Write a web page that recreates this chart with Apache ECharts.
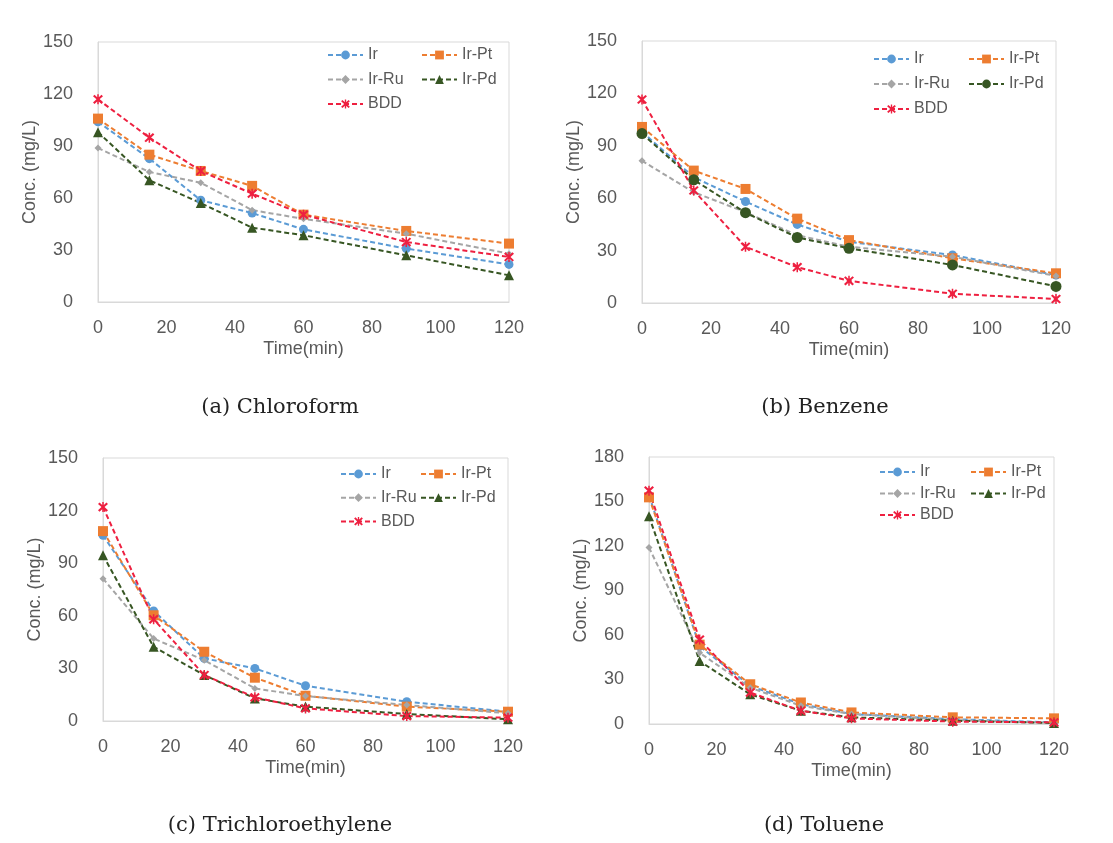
<!DOCTYPE html>
<html><head><meta charset="utf-8">
<script src="https://cdn.jsdelivr.net/npm/echarts@6/dist/echarts.min.js"></script>
<style>html,body{margin:0;padding:0;background:#fff}#c{width:1113px;height:843px}</style>
</head><body><div id="c"></div>
<script>
// ---- data ----
const times = [0, 15, 30, 45, 60, 90, 120];
const seriesNames = ['Ir', 'Ir-Pt', 'Ir-Ru', 'Ir-Pd', 'BDD'];
const captions = ['(a) Chloroform', '(b) Benzene', '(c) Trichloroethylene', '(d) Toluene'];
const yMaxes = [150, 150, 150, 180];

// (a) Chloroform
const chloroIr   = [104, 82.7, 58.7, 51.3, 41.9, 30.8, 21.7];
const chloroIrPt = [105.8, 85, 75.6, 67, 50.4, 41, 33.7];
const chloroIrRu = [88.8, 75, 68.8, 53, 48, 39.4, 27.9];
const chloroIrPd = [98, 70.2, 57.1, 42.9, 38.5, 26.9, 15.4];
const chloroBDD  = [116.9, 94.8, 75.6, 62.5, 50.4, 34.6, 26];

// (b) Benzene
const benzIr   = [98, 72, 58.1, 45, 35, 27.5, 16];
const benzIrPt = [100.8, 75.8, 65.3, 48.3, 36, 25.6, 17];
const benzIrRu = [81.4, 63.4, 52, 38.8, 32.2, 26.5, 15.5];
const benzIrPd = [97, 70.5, 51.7, 37.5, 31.3, 21.8, 9.5];
const benzBDD  = [116.5, 64.4, 32.2, 20.5, 12.7, 5.3, 2.3];

// (c) Trichloroethylene
const tceIr   = [105.9, 62.8, 35.7, 30, 20.1, 11, 5.3];
const tceIrPt = [108.3, 60.3, 39.5, 24.7, 14.4, 8.2, 5.3];
const tceIrRu = [81.2, 47, 34.7, 18.6, 14.2, 9.1, 4.4];
const tceIrPd = [94.5, 42.3, 26.2, 12.9, 8.2, 4, 1];
const tceBDD  = [122, 58, 26.2, 13.5, 7.2, 2.8, 1.9];

// (d) Toluene
const tolIr   = [154, 52.4, 25.7, 13.4, 6.7, 3.3, 1.1];
const tolIrPt = [152.8, 53.5, 26.8, 14.5, 7.8, 4.5, 3.8];
const tolIrRu = [119, 48, 24.5, 12.3, 6.7, 2.7, 0.7];
const tolIrPd = [140, 42.4, 20, 8.9, 4.5, 2.2, 0.7];
const tolBDD  = [157.3, 56.9, 21.2, 8.9, 3.8, 1.6, 1.1];

const panelData = [
  [chloroIr, chloroIrPt, chloroIrRu, chloroIrPd, chloroBDD],
  [benzIr, benzIrPt, benzIrRu, benzIrPd, benzBDD],
  [tceIr, tceIrPt, tceIrRu, tceIrPd, tceBDD],
  [tolIr, tolIrPt, tolIrRu, tolIrPd, tolBDD]
];

// ---- styling / layout ----
const keys = ['a', 'b', 'c', 'd'];
const colors = ['#5B9BD5', '#ED7D31', '#A5A5A5', '#375623', '#EE2040'];
const star = 'path://M-4.6,-3.2 L-3.2,-4.6 L0,-1.4 L3.2,-4.6 L4.6,-3.2 L1.4,0 L4.6,3.2 L3.2,4.6 L0,1.4 L-3.2,4.6 L-4.6,3.2 L-1.4,0 Z M-0.7,-5 L0.7,-5 L0.7,5 L-0.7,5 Z';
const symbols = ['circle', 'rect', 'diamond', 'triangle', star];
const symbolSizes = [9, 10, 7, 10, 10];
const grids = [
  {left: 98, top: 42, width: 411, height: 260},
  {left: 642, top: 41, width: 414, height: 262},
  {left: 103, top: 458, width: 405, height: 263},
  {left: 649, top: 457, width: 405, height: 267}
];
const legendPos = [
  {c1: 327, c2: 421, top: 47, gap: 8.5},
  {c1: 873, c2: 968, top: 51, gap: 9},
  {c1: 340, c2: 420, top: 466, gap: 7.7},
  {c1: 879, c2: 970, top: 464, gap: 5.5}
];
const captionPos = [[275, 405], [820, 405], [275, 823], [819, 823]];

const gray = '#595959';
const font = 'Liberation Sans';

const option = {
  backgroundColor: '#fff',
  animation: false,
  grid: grids.map(g => Object.assign({show: true, borderColor: '#D9D9D9', borderWidth: 1, containLabel: false}, g)),
  xAxis: grids.map((g, i) => ({
    type: 'value', gridIndex: i, min: 0, max: 120, interval: 20,
    name: 'Time(min)', nameLocation: 'middle', nameGap: 38,
    nameTextStyle: {color: gray, fontSize: 18, fontFamily: font},
    axisLine: {show: true, lineStyle: {color: '#D9D9D9'}},
    axisTick: {show: false}, splitLine: {show: false},
    axisLabel: {color: gray, fontSize: 18, fontFamily: font, margin: 17}
  })),
  yAxis: grids.map((g, i) => ({
    type: 'value', gridIndex: i, min: 0, max: yMaxes[i], interval: 30,
    name: 'Conc. (mg/L)', nameLocation: 'middle', nameGap: 56,
    nameTextStyle: {color: gray, fontSize: 18, fontFamily: font},
    axisLine: {show: true, lineStyle: {color: '#D9D9D9'}},
    axisTick: {show: false}, splitLine: {show: false},
    axisLabel: {color: gray, fontSize: 18, fontFamily: font, margin: 25}
  })),
  legend: [],
  title: captions.map((t, i) => ({
    text: t, left: captionPos[i][0], top: captionPos[i][1] - 13, textAlign: 'center',
    textStyle: {fontFamily: 'DejaVu Serif', fontWeight: 'normal', fontSize: 21, color: '#222'}
  })),
  series: []
};

panelData.forEach((vals, p) => {
  seriesNames.forEach((nm, s) => {
    let sym = symbols[s];
    if (p === 1 && s === 3) sym = 'circle';
    option.series.push({
      type: 'line', name: keys[p] + '|' + nm,
      xAxisIndex: p, yAxisIndex: p,
      data: times.map((t, k) => [t, vals[s][k]]),
      symbol: sym, symbolSize: symbolSizes[s] + (p === 1 && s === 3 ? 1 : 0),
      showAllSymbol: true,
      itemStyle: {color: colors[s]},
      lineStyle: {color: colors[s], width: 2, type: [5, 3]},
      emphasis: {disabled: true}
    });
  });
  const lp = legendPos[p];
  const common = {
    orient: 'vertical', padding: 0, itemWidth: 35, itemHeight: 11, itemGap: lp.gap,
    top: lp.top, formatter: n => n.split('|')[1],
    textStyle: {color: gray, fontSize: 16, fontFamily: font, lineHeight: 15}
  };
  option.legend.push(Object.assign({}, common, {left: lp.c1, data: [keys[p] + '|Ir', keys[p] + '|Ir-Ru', keys[p] + '|BDD']}));
  option.legend.push(Object.assign({}, common, {left: lp.c2, data: [keys[p] + '|Ir-Pt', keys[p] + '|Ir-Pd']}));
});

const chart = echarts.init(document.getElementById('c'), null, {renderer: 'canvas'});
chart.setOption(option);
</script>
</body></html>
